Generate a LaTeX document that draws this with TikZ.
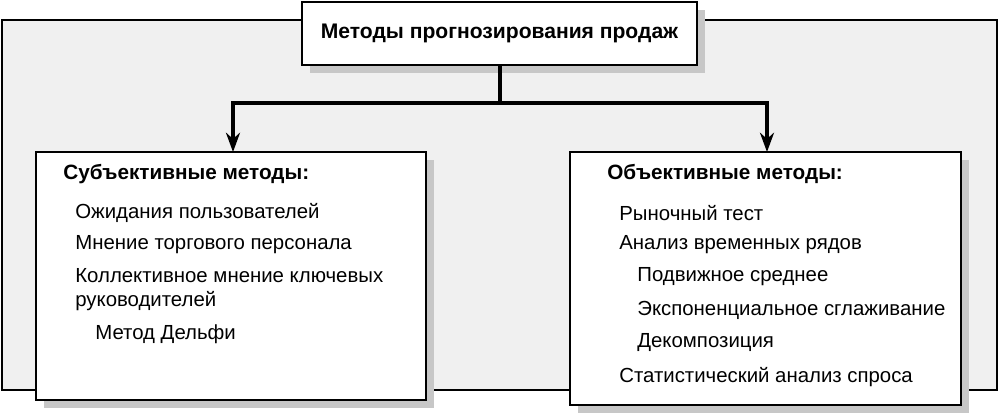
\documentclass[tikz,border=0pt]{standalone}
\usepackage{fontspec}
\setmainfont{Liberation Sans}
\usetikzlibrary{arrows.meta}
\begin{document}
\begin{tikzpicture}[x=0.02cm,y=-0.02cm,
  box/.style={draw=black,line width=1pt,fill=white},
  shad/.style={fill=black!22},
  txt/.style={anchor=west,inner sep=0pt,font=\fontsize{11.6pt}{13pt}\selectfont},
  ttl/.style={txt,font=\fontsize{11.8pt}{13pt}\selectfont\bfseries},
  arr/.style={line width=1.8pt,-{Stealth[length=11pt,width=8pt]}}]
\useasboundingbox (0,0) rectangle (1000,414);
\draw[fill=black!6,line width=1pt] (2,20) rectangle (997,390);
% top
\fill[shad] (310,10) rectangle (705,73);
\draw[box] (302,2) rectangle (697,65);
\node[font=\fontsize{12pt}{13pt}\selectfont\bfseries] (top) at (499.5,33.5) {Методы прогнозирования продаж};
% left
\fill[shad] (44,160) rectangle (434,408);
\draw[box] (36,152) rectangle (426,400);
\coordinate (L) at (233,152);
% right
\fill[shad] (578,160) rectangle (969,413);
\draw[box] (570,152) rectangle (961,405);
\coordinate (R) at (767,152);
\coordinate (T) at (500,65);
\draw[line width=1.8pt] (T) -- (500,103);
\draw[arr] (500,103) -| (L);
\draw[arr] (500,103) -| (R);
% left text
\node[ttl] (l0) at (63,174) {Субъективные методы:};
\node[txt] (l1) at (75,213) {Ожидания пользователей};
\node[txt] (l2) at (75,245) {Мнение торгового персонала};
\node[txt] (l3) at (75,276) {Коллективное мнение ключевых};
\node[txt] (l4) at (75,301) {руководителей};
\node[txt] (l5) at (95,334) {Метод Дельфи};
% right text
\node[ttl] (r0) at (607,174) {Объективные методы:};
\node[txt] (r1) at (619,213) {Рыночный тест};
\node[txt] (r2) at (619,245) {Анализ временных рядов};
\node[txt] (r3) at (637,277) {Подвижное среднее};
\node[txt] (r4) at (637,310) {Экспоненциальное сглаживание};
\node[txt] (r5) at (637,343) {Декомпозиция};
\node[txt] (r6) at (619,377) {Статистический анализ спроса};
\end{tikzpicture}
\end{document}
